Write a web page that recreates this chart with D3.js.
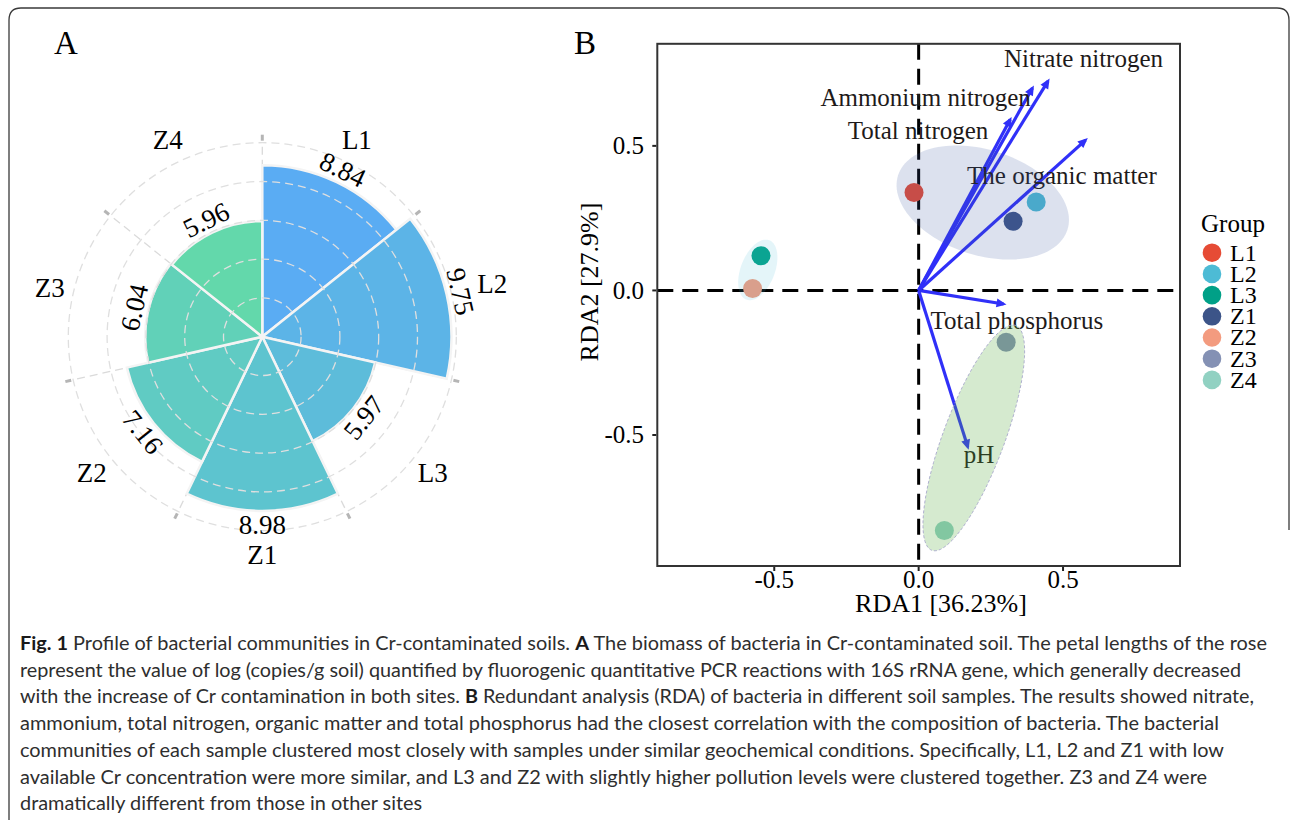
<!DOCTYPE html>
<html>
<head>
<meta charset="utf-8">
<script src="https://cdn.jsdelivr.net/npm/d3@7"></script>
<style>
  body { margin: 0; background: #fff; }
  svg { display: block; }
</style>
</head>
<body>
<div id="chart"></div>
<script>
// panel A: rose of bacterial biomass
const categories = ["L1", "L2", "L3", "Z1", "Z2", "Z3", "Z4"];
const biomass = [8.84, 9.75, 5.97, 8.98, 7.16, 6.04, 5.96];
const radialTicks = [2, 4, 6, 8, 10];
const petalColors = ["#5aacf3", "#5cb4e7", "#5dbcda", "#5dc4cf", "#60cbc3", "#61d1b8", "#63d8ab"];

// panel B: RDA biplot
const samples = ["L1", "L2", "L3", "Z1", "Z2", "Z3", "Z4"];
const rda1 = [-0.016, 0.407, -0.546, 0.327, -0.575, 0.303, 0.089];
const rda2 = [0.339, 0.306, 0.120, 0.239, 0.007, -0.179, -0.830];
const sampleColors = ["#E64B35", "#4DBBD5", "#00A087", "#3C5488", "#F39B7F", "#8491B4", "#91D1C2"];

const factors = ["Nitrate nitrogen", "Ammonium nitrogen", "Total nitrogen", "The organic matter", "Total phosphorus", "pH"];
const factorX = [0.448, 0.394, 0.317, 0.578, 0.294, 0.170];
const factorY = [0.724, 0.700, 0.591, 0.520, -0.047, -0.541];
const factorLabelX = [0.571, 0.024, -0.002, 0.496, 0.340, 0.209];
const factorLabelY = [0.803, 0.667, 0.552, 0.396, -0.106, -0.567];

// cluster ellipses (centre, semi-axes, angle in degrees) in RDA units
const clusterCx = [0.222, -0.557, 0.191];
const clusterCy = [0.304, 0.071, -0.510];
const clusterA = [0.308, 0.110, 0.415];
const clusterB = [0.182, 0.059, 0.106];
const clusterAngle = [-17.8, 68.8, 69.5];
const clusterFill = ["#3B5BA0", "#4DBBD5", "#57AB3F"];
const clusterAlpha = [0.18, 0.15, 0.25];

const xTicks = [-0.5, 0, 0.5];
const yTicks = [-0.5, 0, 0.5];

const captionLines = [
  [["Fig. 1", true], [" Profile of bacterial communities in Cr-contaminated soils. ", false], ["A", true], [" The biomass of bacteria in Cr-contaminated soil. The petal lengths of the rose", false]],
  [["represent the value of log (copies/g soil) quantified by fluorogenic quantitative PCR reactions with 16S rRNA gene, which generally decreased", false]],
  [["with the increase of Cr contamination in both sites. ", false], ["B", true], [" Redundant analysis (RDA) of bacteria in different soil samples. The results showed nitrate,", false]],
  [["ammonium, total nitrogen, organic matter and total phosphorus had the closest correlation with the composition of bacteria. The bacterial", false]],
  [["communities of each sample clustered most closely with samples under similar geochemical conditions. Specifically, L1, L2 and Z1 with low", false]],
  [["available Cr concentration were more similar, and L3 and Z2 with slightly higher pollution levels were clustered together. Z3 and Z4 were", false]],
  [["dramatically different from those in other sites", false]]
];
// widths of the full lines; the last, short line follows their average squeeze
const captionWidths = [1247, 1221, 1234, 1199, 1204, 1187];

const serif = "'Liberation Serif', 'Times New Roman', serif";
const fmt = v => v.toFixed(1);

const svg = d3.select("#chart").append("svg")
  .attr("width", 1292)
  .attr("height", 820);

// frame
svg.append("path")
  .attr("d", "M9,820 L9,20 Q9,8 21,8 L1277,8 Q1289,8 1289,20 L1289,530")
  .attr("fill", "none")
  .attr("stroke", "#3a3a3a")
  .attr("stroke-width", 1.3);

// ---------- panel A ----------
svg.append("text").attr("x", 66).attr("y", 54)
  .attr("text-anchor", "middle").attr("font-family", serif).attr("font-size", 33).text("A");

const cxA = 262.3, cyA = 336.7;
const gA = svg.append("g").attr("transform", `translate(${cxA},${cyA})`);

const r = d3.scaleLinear().domain([0, 10]).range([0, 194]);
const theta = d3.scaleBand().domain(categories).range([0, 2 * Math.PI]);
const roseData = categories.map((c, i) => ({ c: c, v: biomass[i], col: petalColors[i] }));
const mid = d => theta(d.c) + theta.bandwidth() / 2;

// radial grid lines at sector borders
gA.selectAll(".spoke").data(categories).enter().append("line")
  .attr("x1", 0).attr("y1", 0)
  .attr("x2", d => r(10) * Math.sin(theta(d)))
  .attr("y2", d => -r(10) * Math.cos(theta(d)))
  .attr("stroke", "#dadada").attr("stroke-width", 1.3).attr("stroke-dasharray", "8,5");

const arc = d3.arc()
  .innerRadius(0)
  .outerRadius(d => r(d.v))
  .startAngle(d => theta(d.c))
  .endAngle(d => theta(d.c) + theta.bandwidth());

gA.selectAll(".petal").data(roseData).enter().append("path")
  .attr("d", arc)
  .attr("fill", d => d.col)
  .attr("stroke", "#f4f4f4")
  .attr("stroke-width", 2.5);

// circular grid drawn over petals
gA.selectAll(".ring").data(radialTicks).enter().append("circle")
  .attr("r", d => r(d))
  .attr("fill", "none")
  .attr("stroke", "#dfdfdf")
  .attr("stroke-width", 1.3)
  .attr("stroke-dasharray", "8,5");

// axis ticks
gA.selectAll(".tick").data(categories).enter().append("line")
  .attr("x1", d => 196 * Math.sin(theta(d)))
  .attr("y1", d => -196 * Math.cos(theta(d)))
  .attr("x2", d => 202 * Math.sin(theta(d)))
  .attr("y2", d => -202 * Math.cos(theta(d)))
  .attr("stroke", "#b5b5b5").attr("stroke-width", 3);

// value labels
gA.selectAll(".val").data(roseData).enter().append("text")
  .attr("transform", d => {
    const m = mid(d);
    const rr = r(d.v) + 14;
    let deg = m * 180 / Math.PI;
    if (deg > 90 && deg < 270) deg -= 180;
    return `translate(${rr * Math.sin(m)},${-rr * Math.cos(m)}) rotate(${deg})`;
  })
  .attr("text-anchor", "middle")
  .attr("dy", "0.34em")
  .attr("font-family", serif)
  .attr("font-size", 27)
  .text(d => d.v.toFixed(2));

// category labels, pushed out past a long petal's value label
const catR = d => {
  const m = mid(d);
  const clear = r(d.v) + 30 + Math.abs(Math.sin(m)) * 15 + Math.abs(Math.cos(m)) * 9.5;
  return Math.max(218, clear);
};
gA.selectAll(".cat").data(roseData).enter().append("text")
  .attr("x", d => catR(d) * Math.sin(mid(d)))
  .attr("y", d => -catR(d) * Math.cos(mid(d)))
  .attr("text-anchor", "middle")
  .attr("dy", "0.34em")
  .attr("font-family", serif)
  .attr("font-size", 27)
  .text(d => d.c);

// ---------- panel B ----------
svg.append("text").attr("x", 585).attr("y", 54)
  .attr("text-anchor", "middle").attr("font-family", serif).attr("font-size", 33).text("B");

const x = d3.scaleLinear().domain([-0.905, 0.905]).range([657.3, 1180]);
const y = d3.scaleLinear().domain([-0.953, 0.853]).range([566, 43.8]);

const gB = svg.append("g");

// zero lines
gB.append("line")
  .attr("x1", x(0)).attr("x2", x(0)).attr("y1", y(0.853)).attr("y2", y(-0.953))
  .attr("stroke", "#000").attr("stroke-width", 3).attr("stroke-dasharray", "16,9");
gB.append("line")
  .attr("x1", x(-0.905)).attr("x2", x(0.905)).attr("y1", y(0)).attr("y2", y(0))
  .attr("stroke", "#000").attr("stroke-width", 3).attr("stroke-dasharray", "16,9");

// sample points
gB.selectAll(".pt").data(samples).enter().append("circle")
  .attr("cx", (d, i) => x(rda1[i]))
  .attr("cy", (d, i) => y(rda2[i]))
  .attr("r", 9.5)
  .attr("fill", (d, i) => sampleColors[i]);

// environmental arrows
svg.append("defs").append("marker")
  .attr("id", "head")
  .attr("viewBox", "0 0 10 10")
  .attr("refX", 7).attr("refY", 5)
  .attr("markerWidth", 12).attr("markerHeight", 10)
  .attr("markerUnits", "userSpaceOnUse")
  .attr("orient", "auto")
  .append("path").attr("d", "M0,0.5 L10,5 L0,9.5 Z").attr("fill", "#3030f8");

gB.selectAll(".arrow").data(factors).enter().append("line")
  .attr("x1", x(0)).attr("y1", y(0))
  .attr("x2", (d, i) => x(factorX[i]))
  .attr("y2", (d, i) => y(factorY[i]))
  .attr("stroke", "#3030f8")
  .attr("stroke-width", 3.2)
  .attr("marker-end", "url(#head)");

gB.selectAll(".flab").data(factors).enter().append("text")
  .attr("x", (d, i) => x(factorLabelX[i]))
  .attr("y", (d, i) => y(factorLabelY[i]))
  .attr("dy", "0.33em")
  .attr("text-anchor", "middle")
  .attr("font-family", serif)
  .attr("font-size", 25)
  .attr("fill", "#1e1a1a")
  .text(d => d);

// cluster ellipses on top
const ellipse = d3.line().x(p => x(p[0])).y(p => y(p[1])).curve(d3.curveLinearClosed);
const ellipsePoints = i => d3.range(0, 360, 3).map(t => {
  const a = t * Math.PI / 180, phi = clusterAngle[i] * Math.PI / 180;
  const ex = clusterA[i] * Math.cos(a), ey = clusterB[i] * Math.sin(a);
  return [clusterCx[i] + ex * Math.cos(phi) - ey * Math.sin(phi),
          clusterCy[i] + ex * Math.sin(phi) + ey * Math.cos(phi)];
});
gB.selectAll(".ell").data(clusterCx).enter().append("path")
  .attr("d", (d, i) => ellipse(ellipsePoints(i)))
  .attr("fill", (d, i) => clusterFill[i])
  .attr("fill-opacity", (d, i) => clusterAlpha[i])
  .attr("stroke", (d, i) => i === 2 ? "#a8a8cc" : "none")
  .attr("stroke-width", 0.9)
  .attr("stroke-dasharray", "3,2");

// box and axes
gB.append("rect")
  .attr("x", x(-0.905)).attr("y", y(0.853))
  .attr("width", x(0.905) - x(-0.905)).attr("height", y(-0.953) - y(0.853))
  .attr("fill", "none").attr("stroke", "#333").attr("stroke-width", 2);

gB.selectAll(".xt").data(xTicks).enter().append("line")
  .attr("x1", d => x(d)).attr("x2", d => x(d))
  .attr("y1", y(-0.953) + 1).attr("y2", y(-0.953) + 5)
  .attr("stroke", "#222").attr("stroke-width", 2);
gB.selectAll(".xl").data(xTicks).enter().append("text")
  .attr("x", d => x(d)).attr("y", 588)
  .attr("text-anchor", "middle")
  .attr("font-family", serif).attr("font-size", 25)
  .text(fmt);

gB.selectAll(".yt").data(yTicks).enter().append("line")
  .attr("x1", x(-0.905) - 5).attr("x2", x(-0.905) - 1)
  .attr("y1", d => y(d)).attr("y2", d => y(d))
  .attr("stroke", "#222").attr("stroke-width", 2);
gB.selectAll(".yl").data(yTicks).enter().append("text")
  .attr("x", 644).attr("y", d => y(d))
  .attr("dy", "0.33em")
  .attr("text-anchor", "end")
  .attr("font-family", serif).attr("font-size", 25)
  .text(fmt);

svg.append("text").attr("x", 941).attr("y", 612)
  .attr("text-anchor", "middle").attr("font-family", serif).attr("font-size", 26)
  .text("RDA1 [36.23%]");
svg.append("text")
  .attr("transform", "translate(598,282) rotate(-90)")
  .attr("text-anchor", "middle").attr("font-family", serif).attr("font-size", 26)
  .text("RDA2 [27.9%]");

// legend
const legend = svg.append("g");
legend.append("text").attr("x", 1201).attr("y", 232)
  .attr("font-family", serif).attr("font-size", 25).text("Group");
legend.selectAll(".lk").data(samples).enter().append("circle")
  .attr("cx", 1212).attr("cy", (d, i) => 252.7 + i * 21.2)
  .attr("r", 9.3)
  .attr("fill", (d, i) => sampleColors[i]);
legend.selectAll(".lt").data(samples).enter().append("text")
  .attr("x", 1230).attr("y", (d, i) => 252.7 + i * 21.2)
  .attr("dy", "0.33em")
  .attr("font-family", serif).attr("font-size", 24)
  .text(d => d);

// ---------- caption ----------
const cap = svg.append("g");
const capTexts = captionLines.map((parts, i) => {
  const t = cap.append("text")
    .attr("x", 20).attr("y", 650 + i * 26.7)
    .attr("font-family", "Lato, 'Open Sans', sans-serif")
    .attr("font-size", 19.5)
    .attr("fill", "#2e2e2e");
  parts.forEach(p => {
    t.append("tspan")
      .attr("font-weight", p[1] ? "bold" : "normal")
      .attr("fill", p[1] ? "#1a1a1a" : "#2e2e2e")
      .text(p[0]);
  });
  return t;
});
const natural = capTexts.map(t => t.node().getComputedTextLength());
const squeeze = d3.mean(captionWidths, (w, i) => w / natural[i]);
capTexts.forEach((t, i) => {
  const w = i < captionWidths.length ? captionWidths[i] : natural[i] * squeeze;
  t.attr("textLength", w).attr("lengthAdjust", "spacingAndGlyphs");
});
</script>
</body>
</html>
